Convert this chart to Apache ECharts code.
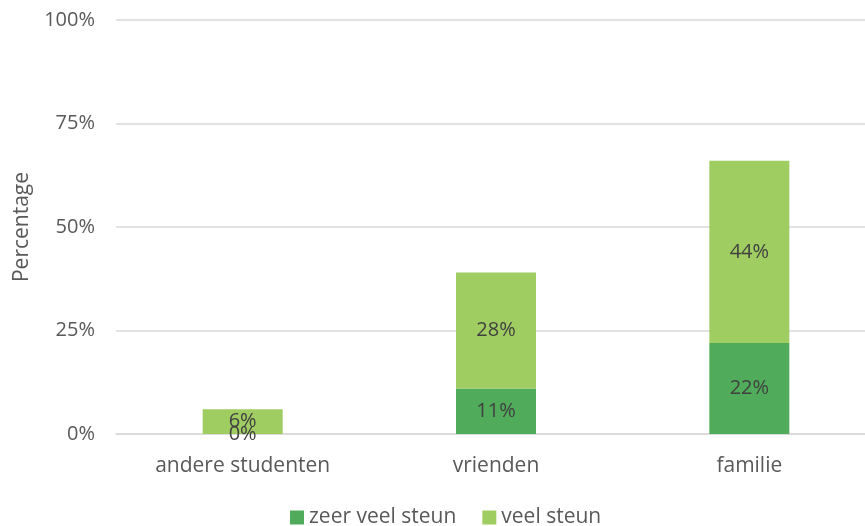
<!DOCTYPE html>
<html><head><meta charset="utf-8">
<script src="https://cdn.jsdelivr.net/npm/echarts@6/dist/echarts.min.js"></script>
<style>html,body{margin:0;padding:0;background:#fff;overflow:hidden}#c{width:876px;height:526px}</style>
</head><body><div id="c"></div>
<script>
const categories = ['andere studenten', 'vrienden', 'familie'];
const zeerVeelSteun = [0, 11, 22];
const veelSteun = [6, 28, 44];
const yTicks = [0, 25, 50, 75, 100];

const font = '"Open Sans", "Liberation Sans", sans-serif';
const chart = echarts.init(document.getElementById('c'));
const lbl = {show: true, position: 'inside', color: '#404040', fontSize: 20, fontFamily: font, formatter: p => p.value + '%'};
chart.setOption({
  animation: false,
  grid: {left: 116, right: 0, top: 20, bottom: 92, containLabel: false, outerBoundsMode: 'none'},
  legend: {
    bottom: -7, left: 285, itemWidth: 14, itemHeight: 14, itemGap: 26,
    icon: 'rect',
    textStyle: {color: '#595959', fontSize: 21, fontFamily: font},
    data: ['zeer veel steun', 'veel steun']
  },
  xAxis: {
    type: 'category', data: categories,
    axisLine: {lineStyle: {color: '#d9d9d9', width: 1.5}},
    axisTick: {show: false},
    axisLabel: {color: '#595959', fontSize: 21, fontFamily: font, margin: 22}
  },
  yAxis: {
    type: 'value', min: yTicks[0], max: yTicks[yTicks.length - 1], interval: 25,
    name: 'Percentage', nameLocation: 'middle', nameGap: 83, nameRotate: 90,
    nameTextStyle: {color: '#595959', fontSize: 21, fontFamily: font},
    axisLine: {show: false}, axisTick: {show: false},
    axisLabel: {color: '#595959', fontSize: 20, fontFamily: font, margin: 21, formatter: v => v + '%'},
    splitLine: {lineStyle: {color: '#d9d9d9', width: 1.5}}
  },
  series: [
    {name: 'zeer veel steun', type: 'bar', stack: 's', data: zeerVeelSteun, barWidth: 80,
     itemStyle: {color: '#50AB5A'}, label: lbl},
    {name: 'veel steun', type: 'bar', stack: 's', data: veelSteun, barWidth: 80,
     itemStyle: {color: '#A0CD62'}, label: lbl}
  ]
});
</script></body></html>
